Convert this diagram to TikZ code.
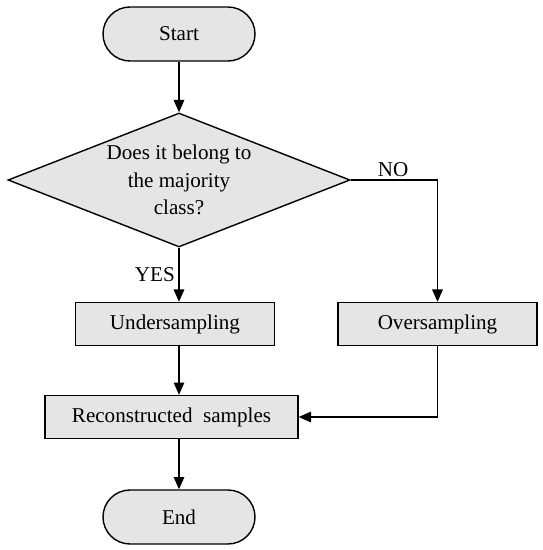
\documentclass[tikz,border=0pt]{standalone}
\usepackage{fontspec}
\setmainfont{Liberation Serif}
\usepackage{tikz}
\usetikzlibrary{shapes.geometric, arrows.meta, positioning, calc}

\begin{document}
\begin{tikzpicture}[
    every node/.style={align=center, font=\fontsize{12}{15.5}\selectfont},
    terminal/.style={rectangle, draw, fill=gray!20, line width=0.8pt, rounded corners=0.54cm, minimum width=3.04cm, minimum height=1.08cm},
    decision/.style={diamond, draw, fill=gray!20, line width=0.8pt, aspect=2.55, inner sep=0pt, minimum width=6.84cm, minimum height=2.68cm},
    process/.style={rectangle, draw, fill=gray!20, line width=0.8pt, minimum height=0.86cm},
    flow/.style={-{Triangle[length=7pt, width=6pt]}, line width=0.8pt}
]
\useasboundingbox (0,0) rectangle (10.86,-11);
\node[terminal] (start) at (3.58,-0.68) {Start};
\node[decision] (majority) at (3.58,-3.6) {Does it belong to\\the majority\\class?};
\node[process, minimum width=3.98cm] (under) at (3.5,-6.48) {Undersampling};
\node[process, minimum width=3.98cm] (over) at (8.75,-6.48) {Oversampling};
\node[process, minimum width=5.06cm] (recon) at (3.43,-8.34) {Reconstructed\ \ samples};
\node[terminal] (end) at (3.58,-10.34) {End};

\draw[flow] (start) -- (majority);
\draw[flow] (majority.south) -- (majority.south |- under.north) node[pos=0.5, left, inner sep=2pt] {YES};
\draw[flow] (majority.east) -| (over.north);
\node[anchor=south west, inner sep=1pt] (no) at ($(majority.east)+(0.5,0.03)$) {NO};
\draw[flow] (under.south -| majority.south) -- (recon.north -| majority.south);
\draw[flow] (over.south) |- (recon.east);
\draw[flow] (recon.south -| end.north) -- (end.north);
\end{tikzpicture}
\end{document}
